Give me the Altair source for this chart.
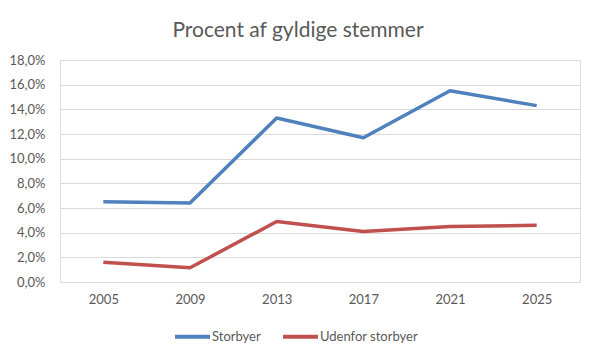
import altair as alt
import pandas as pd

years = ["2005", "2009", "2013", "2017", "2021", "2025"]
storbyer = [6.5, 6.4, 13.3, 11.7, 15.5, 14.3]
udenfor = [1.6, 1.15, 4.9, 4.1, 4.5, 4.6]
series_names = ["Storbyer", "Udenfor storbyer"]
series_colors = ["#4F81BD", "#C0504D"]
y_ticks = [0, 2, 4, 6, 8, 10, 12, 14, 16, 18]
title_text = "Procent af gyldige stemmer"

rows = []
for i, y in enumerate(years):
    rows.append({"Year": y, "Serie": series_names[0], "Value": storbyer[i]})
    rows.append({"Year": y, "Serie": series_names[1], "Value": udenfor[i]})
df = pd.DataFrame(rows)

FONT = "Lato"
TXT = "#595959"

chart = alt.Chart(df).mark_line(strokeWidth=3.5, strokeJoin="round", strokeCap="butt").encode(
    x=alt.X("Year:N", sort=years, title=None,
            scale=alt.Scale(type="point", padding=0.5),
            axis=alt.Axis(labelAngle=0, ticks=False, domain=False, grid=False,
                          labelFont=FONT, labelFontSize=13, labelColor=TXT,
                          labelPadding=11)),
    y=alt.Y("Value:Q", title=None,
            scale=alt.Scale(domain=[0, 18], nice=False),
            axis=alt.Axis(values=y_ticks, ticks=False, domain=False, tickSize=0,
                          grid=True, gridColor="#D9D9D9", gridWidth=1,
                          labelFont=FONT, labelFontSize=13, labelColor=TXT,
                          labelPadding=15,
                          labelExpr="replace(format(datum.value, '.1f'), '.', ',') + '%'")),
    color=alt.Color("Serie:N", sort=series_names,
                    scale=alt.Scale(domain=series_names, range=series_colors),
                    legend=alt.Legend(title=None, orient="none", direction="horizontal",
                                      legendX=113, legendY=257,
                                      symbolType="stroke", symbolSize=1225,
                                      symbolStrokeWidth=4, labelOffset=0,
                                      columnPadding=14,
                                      labelFont=FONT, labelFontSize=13, labelColor=TXT)),
).properties(
    width=520,
    height=222,
    title=alt.TitleParams(title_text, font=FONT, fontSize=21, fontWeight="normal",
                          color=TXT, anchor="middle", offset=13,
                          baseline="bottom", dx=-22, dy=21),
    autosize=alt.AutoSizeParams(type="none"),
    padding={"left": 52, "top": 52, "right": 7, "bottom": 71},
).configure_view(stroke=None).configure(background="white")

chart.save("out.html", embed_options={"renderer": "svg", "actions": False})
